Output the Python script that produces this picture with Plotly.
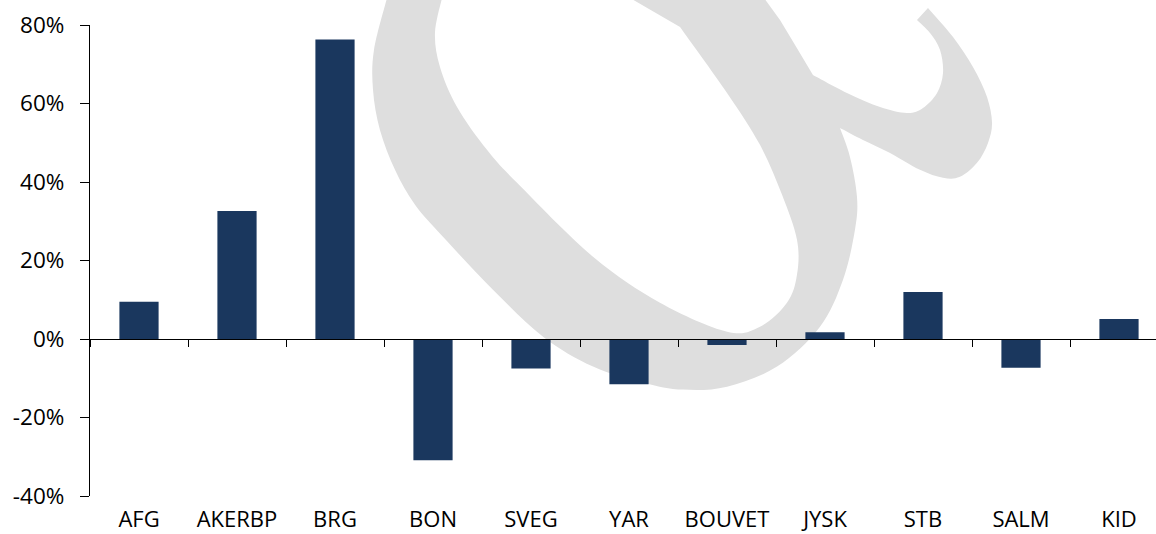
import plotly.graph_objects as go

categories = ["AFG", "AKERBP", "BRG", "BON", "SVEG", "YAR", "BOUVET", "JYSK", "STB", "SALM", "KID"]
values = [9.5, 32.6, 76.3, -30.9, -7.5, -11.5, -1.5, 1.7, 12.0, -7.3, 5.1]
y_ticks = [-40, -20, 0, 20, 40, 60, 80]
y_tick_labels = [f"{v}%" for v in y_ticks]

W, H = 1156, 534
PLOT_L, PLOT_T, PLOT_B = 90, 25, 496.5
ML, MR, MT, MB = PLOT_L, 0, PLOT_T, H - PLOT_B
PW, PH = W - ML - MR, H - MT - MB
Y0, Y1 = -40, 80
X0, X1 = -0.5, -0.5 + PW / 98.0

FONT = "Open Sans, Segoe UI, sans-serif"
BAR = "#1a375e"
WM = "#dedede"


def px(x, y):
    # pixel -> paper fraction (watermark decoration only)
    return ((x - PLOT_L) / PW, (PLOT_B - y) / PH)


def smooth(pts, start=True):
    out = []
    P = [px(*p) for p in pts]
    if start:
        out.append(f"M{P[0][0]:.4f},{P[0][1]:.4f}")
    for i in range(len(P) - 1):
        p0 = P[i - 1] if i > 0 else P[i]
        p1, p2 = P[i], P[i + 1]
        p3 = P[i + 2] if i + 2 < len(P) else P[i + 1]
        c1 = (p1[0] + (p2[0] - p0[0]) / 6, p1[1] + (p2[1] - p0[1]) / 6)
        c2 = (p2[0] - (p3[0] - p1[0]) / 6, p2[1] - (p3[1] - p1[1]) / 6)
        out.append(f"C{c1[0]:.4f},{c1[1]:.4f} {c2[0]:.4f},{c2[1]:.4f} {p2[0]:.4f},{p2[1]:.4f}")
    return " ".join(out)


def line(*pts):
    return " ".join("L{:.4f},{:.4f}".format(*px(*p)) for p in pts)


outer = [(387, -2), (374, 50), (373, 90), (380, 130), (395, 170), (415, 205), (443, 237),
         (493, 290), (543, 337), (593, 367), (643, 383), (683, 390), (727, 387), (777, 367),
         (820, 327), (843, 280), (855, 230), (857, 197), (850, 157), (840, 128)]
curl_low = [(840, 128), (863, 140), (890, 153), (920, 170), (943, 178), (960, 177), (977, 163),
            (988, 143), (992, 123), (987, 97), (973, 67), (953, 37), (928, 8)]
curl_in = [(917, 20), (930, 33), (940, 50), (943, 73), (937, 93), (923, 108), (907, 113),
           (880, 107), (847, 93), (813, 75)]
inner = [(680, 27), (727, 93), (760, 145), (782, 195), (797, 240), (797, 275), (787, 303),
         (760, 327), (727, 332), (660, 303), (593, 257), (517, 183), (487, 150), (457, 107),
         (440, 67), (435, 33), (442, -2)]

path = " ".join([
    smooth(outer),
    smooth(curl_low, False),
    line((917, 20)),
    smooth(curl_in, False),
    line((795, 45), (780, 20), (764, -2), (630, -2), (680, 27)),
    smooth(inner, False),
    "Z",
])

fig = go.Figure()
fig.add_trace(go.Bar(x=categories, y=values, marker=dict(color=BAR, line=dict(width=0)),
                     width=0.4, hoverinfo="x+y"))
fig.add_trace(go.Scatter(x=categories, y=[0] * len(categories), xaxis="x2", mode="markers",
                         marker=dict(opacity=0), hoverinfo="skip", showlegend=False))

fig.update_layout(
    width=W, height=H,
    margin=dict(l=ML, r=MR, t=MT, b=MB, pad=0, autoexpand=False),
    paper_bgcolor="white", plot_bgcolor="rgba(0,0,0,0)",
    showlegend=False,
    font=dict(family=FONT, size=22, color="#000000"),
    shapes=[dict(type="path", path=path, xref="paper", yref="paper",
                 fillcolor=WM, line=dict(width=0), layer="below")],
    xaxis=dict(type="category", range=[X0, X1], showline=False, ticks="", showgrid=False,
               zeroline=False, tickfont=dict(family=FONT, size=22, color="#000"),
               ticklabelstandoff=8, automargin=False),
    xaxis2=dict(type="category", overlaying="x", matches="x", anchor="free",
                position=(0 - Y0) / (Y1 - Y0), showline=True, linecolor="#000", linewidth=1.2,
                ticks="outside", tickson="boundaries", ticklen=7, tickwidth=1.2, tickcolor="#000",
                showticklabels=False, showgrid=False, zeroline=False, automargin=False),
    yaxis=dict(range=[Y0, Y1], tickvals=y_ticks, ticktext=y_tick_labels, showline=True,
               linecolor="#000", linewidth=1.2, ticks="outside", ticklen=9, tickwidth=1.2,
               tickcolor="#000", showgrid=False, zeroline=False, automargin=False,
               tickfont=dict(family=FONT, size=22.5, color="#000"), ticklabelstandoff=11),
)

fig.write_html("out.html", config={"displayModeBar": False},
               post_script="document.body.style.margin='0';")
